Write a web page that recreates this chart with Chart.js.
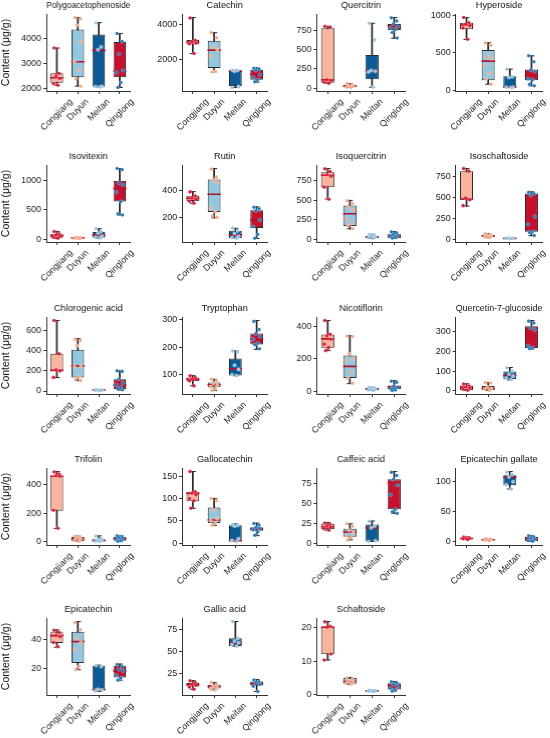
<!DOCTYPE html>
<html>
<head>
<meta charset="utf-8">
<script src="https://cdn.jsdelivr.net/npm/chart.js@4.4.1/dist/chart.umd.min.js"></script>
<style>
  html, body { margin: 0; padding: 0; background: #fff; }
  body { position: relative; width: 550px; height: 738px; overflow: hidden; }
  .panel { position: absolute; width: 137.5px; height: 150px; }
</style>
</head>
<body>
<script>
// ---- data ----
const regions = ['Congjiang', 'Duyun', 'Meitan', 'Qinglong'];

const compounds = [
  'Polygoacetophenoside', 'Catechin', 'Quercitrin', 'Hyperoside',
  'Isovitexin', 'Rutin', 'Isoquercitrin', 'Isoschaftoside',
  'Chlorogenic acid', 'Tryptophan', 'Nicotiflorin', 'Quercetin-7-glucoside',
  'Trifolin', 'Gallocatechin', 'Caffeic acid', 'Epicatechin gallate',
  'Epicatechin', 'Gallic acid', 'Schaftoside'
];

// whisker ends and box quartiles, one row per compound, one column per region
const lows = [
  [2135, 2095, 2060, 2040], [2330, 1255, 350, 667], [65, 10, 13, 646], [678, 80, 36, 58],
  [10, 10, 15, 410], [305, 197, 45, 43], [517, 134, 10, 10], [395, 20, 10, 43],
  [133, 103, 5, 10], [60, 43, 97, 193], [250, 47, 5, 5], [2, 2, 56, 213],
  [93, 5, 3, 5], [78, 40, 4, 17], [17, 5, 3, 38], [4, 2, 88, 0.5],
  [34.6, 18.8, 3.5, 11.5], [7.6, 6.9, 56, 5], [10.4, 3.1, 1.0, 1.1]
];
const q1s = [
  [2230, 2446, 2068, 2446], [2862, 1490, 432, 804], [73, 13, 116, 754], [812, 134, 36, 134],
  [23, 15, 23, 640], [322, 241, 46, 122], [668, 172, 13, 13], [470, 24, 10, 91],
  [200, 133, 7, 20], [78, 55, 98, 211], [267, 82, 6, 14], [5, 5, 60, 218],
  [216, 7, 5, 9], [94, 45, 6, 28], [18.5, 9, 3, 43], [4.5, 2.2, 94, 1],
  [37.6, 23.5, 4.7, 13.4], [10.7, 8.4, 56.5, 11.8], [12.1, 3.3, 1.1, 1.6]
];
const medians = [
  [2430, 3068, 3527, 2700], [3000, 2529, 1300, 1118], [108, 30, 224, 806], [870, 388, 45, 200],
  [57, 20, 63, 860], [342, 372, 68, 182], [823, 328, 26, 47], [480, 40, 12, 269],
  [205, 250, 10, 60], [84, 64, 122, 230], [322, 153, 14, 27], [19, 13, 78, 280],
  [455, 23, 9, 23], [111, 52, 6, 32], [21.4, 15, 20, 76], [5.6, 3.5, 108, 4.5],
  [42.8, 38.6, 4.7, 18], [12.6, 10.7, 59.4, 13.4], [20.2, 4, 1.2, 2.8]
];
const q3s = [
  [2608, 4365, 4162, 3865], [3117, 3078, 1353, 1392], [776, 43, 431, 832], [901, 535, 187, 277],
  [91, 25, 120, 994], [362, 483, 101, 253], [862, 435, 43, 65], [810, 51, 14, 545],
  [370, 410, 12, 117], [90, 72, 160, 251], [349, 220, 20, 35], [27, 25, 99, 329],
  [458, 35, 18, 35], [115, 80, 40, 36], [25, 19, 24, 80.5], [6.7, 4.5, 111, 8.4],
  [45.2, 45.6, 21.6, 21.6], [14.7, 12.6, 65, 16.4], [20.4, 5, 1.3, 3.5]
];
const highs = [
  [3620, 4838, 4635, 4203], [4430, 3548, 1360, 1490], [800, 60, 840, 914], [968, 633, 281, 459],
  [130, 30, 177, 1199], [392, 564, 119, 278], [909, 500, 65, 99], [841, 65, 15, 565],
  [700, 520, 14, 200], [97, 84, 187, 298], [435, 342, 25, 65], [36, 43, 119, 358],
  [488, 40, 42, 42], [160, 100, 43, 45], [26.5, 25, 28.5, 90], [8, 5.5, 117, 10],
  [46.8, 52.7, 22, 22.8], [17.2, 15.3, 84, 18.6], [21.9, 5.2, 1.4, 4]
];

// individual samples
const samples = [
  [[3620, 2600, 2500, 2400, 2200, 2130], [4840, 4780, 4530, 3870, 3080, 2740, 2390, 2095], [4620, 3660, 3550, 2080, 2070, 2060], [4200, 3880, 3380, 2720, 2650, 2240, 2040]],
  [[4400, 3100, 3000, 2950, 2900, 2330], [3550, 3250, 2700, 2550, 2180, 1300, 1255], [1360, 1340, 1300, 400, 350], [1470, 1420, 1350, 1100, 950, 800, 680]],
  [[800, 790, 110, 100, 80, 65], [60, 45, 30, 25, 15, 10], [840, 625, 230, 220, 210, 15], [910, 870, 830, 800, 780, 760, 720, 650]],
  [[970, 900, 880, 860, 830, 680], [630, 600, 450, 420, 330, 230, 150, 80], [280, 180, 170, 40, 38, 36], [460, 380, 270, 250, 150, 140, 80, 60]],
  [[130, 90, 70, 50, 30, 15], [30, 25, 20, 18, 15, 12], [175, 130, 100, 50, 30, 20], [1200, 1180, 950, 920, 800, 640, 430, 410]],
  [[390, 360, 345, 335, 320, 305], [560, 500, 480, 460, 270, 240, 210, 200], [120, 100, 80, 60, 50, 45], [275, 265, 250, 180, 130, 75, 45]],
  [[905, 870, 830, 810, 670, 515], [495, 460, 410, 380, 260, 200, 170, 135], [60, 55, 45, 30, 20, 10], [95, 80, 60, 50, 40, 25, 15]],
  [[840, 810, 490, 470, 400], [65, 55, 45, 40, 30, 25], [15, 13, 12, 12, 11, 10], [560, 545, 520, 270, 180, 90, 80, 45]],
  [[700, 370, 210, 200, 135], [515, 500, 450, 250, 240, 140, 120, 105], [14, 12, 10, 9, 7, 5], [200, 195, 120, 80, 60, 40, 20, 12]],
  [[97, 90, 85, 83, 78, 60], [84, 78, 70, 62, 57, 50, 43], [187, 183, 135, 120, 100, 97], [295, 265, 250, 240, 230, 215, 210, 195]],
  [[435, 350, 340, 320, 290, 270, 250], [340, 335, 230, 200, 190, 120, 80, 50], [25, 20, 15, 12, 8, 5], [62, 55, 30, 25, 15, 8, 5]],
  [[35, 25, 20, 15, 8, 3], [42, 40, 20, 12, 8, 3], [118, 100, 85, 75, 65, 58], [355, 345, 320, 310, 230, 220, 215]],
  [[485, 470, 460, 455, 220, 95], [40, 35, 30, 20, 12, 5], [40, 25, 15, 10, 5, 3], [42, 38, 30, 25, 15, 8, 5]],
  [[160, 115, 112, 108, 100, 95, 78], [100, 95, 75, 55, 50, 45, 40], [42, 40, 38, 10, 6, 4], [44, 40, 35, 33, 30, 25, 18]],
  [[26, 24, 22, 21, 19, 17], [25, 22, 17, 14, 10, 8, 5], [28, 22, 20, 4, 3], [89, 85, 80, 73, 61, 43, 40, 38]],
  [[8, 7, 6, 5.5, 5, 4], [5, 4.5, 4, 3.5, 3, 2], [116, 112, 108, 100, 95, 88], [10, 8, 6, 4, 2, 1]],
  [[46.5, 45, 43, 42, 38, 35], [52, 47, 41, 38, 33, 21, 19], [21.8, 21, 5, 4.5, 3.8], [22.5, 21, 19, 18, 15, 13, 11.5]],
  [[17, 15, 13, 12, 10, 7.5], [15, 13, 11, 10, 8, 7], [84, 65, 62, 60, 58, 56], [18, 16, 15, 13, 11, 5]],
  [[21.8, 20.5, 20.2, 12.2, 10.4], [5, 4.7, 4.2, 3.8, 3.5, 3.2], [1.4, 1.3, 1.2, 1.2, 1.1, 1.0], [3.9, 3.6, 3.1, 2.6, 2, 1.5, 1.1]]
];

const yTicks = [
  [2000, 3000, 4000], [2000, 4000], [0, 250, 500, 750], [0, 500, 1000],
  [0, 500, 1000], [200, 400], [0, 250, 500, 750], [0, 250, 500, 750],
  [0, 200, 400, 600], [100, 200, 300], [0, 200, 400], [0, 100, 200, 300],
  [0, 200, 400], [0, 50, 100, 150], [0, 25, 50, 75], [0, 50, 100],
  [20, 40], [25, 50, 75], [0, 10, 20]
];

// ---- styling / layout ----
const FONT = '"Liberation Sans", Arial, Helvetica, sans-serif';
const boxFill = ['#f9b49b', '#93c6df', '#0b5b96', '#c8102e'];
const dotFill = ['#e8112d', '#f4a582', '#8fc4e0', '#1a7cc1'];
const JITTER = [-0.13, 0.11, -0.04, 0.15, -0.16, 0.05, -0.09, 0.13];
const Y_WIDTH = [46, 44.2, 41.3, 42.7];
const PAD_RIGHT = [3.9, 5.8, 6.3, 8];
const PLOT_TOP = [14, 165, 317, 468, 618];

Chart.defaults.font.family = FONT;
Chart.defaults.color = '#222';

const axisGrid = { display: true, drawOnChartArea: false, offset: false, tickLength: 3, tickColor: '#333', tickWidth: 1 };
const axisBorder = { display: true, color: '#333', width: 1 };

// region names sit slanted at 45 degrees, centred under their tick
const slantLabels = {
    id: 'slantLabels',
    afterDraw(chart) {
        const sx = chart.scales.x, ctx = chart.ctx;
        ctx.save();
        ctx.font = '9px ' + FONT;
        ctx.fillStyle = '#222';
        ctx.textAlign = 'right';
        ctx.textBaseline = 'middle';
        sx.ticks.forEach(t => {
            const label = regions[t.value];
            const w = ctx.measureText(label).width;
            ctx.save();
            ctx.translate(sx.getPixelForValue(t.value) + w * 0.3536, sx.top + 9.5);
            ctx.rotate(-Math.PI / 4);
            ctx.fillText(label, 0, 0);
            ctx.restore();
        });
        ctx.restore();
    }
};

compounds.forEach((name, i) => {
    const col = i % 4, row = Math.floor(i / 4);
    const wrap = document.createElement('div');
    wrap.className = 'panel';
    wrap.style.left = (col * 137.5) + 'px';
    wrap.style.top = (PLOT_TOP[row] - 16) + 'px';
    const canvas = document.createElement('canvas');
    wrap.appendChild(canvas);
    document.body.appendChild(wrap);

    const all = [].concat(...samples[i], lows[i], highs[i]);
    const lo = Math.min(...all), hi = Math.max(...all);
    const pad = (hi - lo) * 0.05;

    const dots = [], dotColors = [];
    samples[i].forEach((vals, g) => vals.forEach((v, k) => {
        dots.push({ x: g + JITTER[k % JITTER.length], y: v });
        dotColors.push(dotFill[g]);
    }));
    const caps = [];
    regions.forEach((r, g) => { caps.push({ x: g, y: lows[i][g] }, { x: g, y: highs[i][g] }); });

    new Chart(canvas.getContext('2d'), {
        type: 'bar',
        data: {
            datasets: [
                {
                    type: 'scatter', order: 1, data: dots,
                    backgroundColor: dotColors, borderColor: 'rgba(255,255,255,0.6)', borderWidth: 0.4,
                    pointRadius: 1.8
                },
                {
                    type: 'scatter', order: 2,
                    data: regions.map((r, g) => ({ x: g, y: medians[i][g] })),
                    pointStyle: 'line', pointRadius: 6.6, borderColor: '#b3112c', borderWidth: 1.6
                },
                {
                    type: 'scatter', order: 3, data: caps,
                    pointStyle: 'line', pointRadius: 3, borderColor: '#2b2b2b', borderWidth: 1
                },
                {
                    type: 'bar', order: 4, grouped: false,
                    data: regions.map((r, g) => ({ x: g, y: [q1s[i][g], q3s[i][g]] })),
                    backgroundColor: boxFill, borderColor: '#2b2b2b', borderWidth: 1, borderSkipped: false,
                    categoryPercentage: 1, barPercentage: 0.6
                },
                {
                    type: 'bar', order: 5, grouped: false,
                    data: regions.map((r, g) => ({ x: g, y: [lows[i][g], highs[i][g]] })),
                    backgroundColor: '#2b2b2b', borderWidth: 0, barThickness: 1.1
                }
            ]
        },
        options: {
            responsive: true,
            maintainAspectRatio: false,
            animation: false,
            events: [],
            layout: { padding: { left: 0, right: PAD_RIGHT[col], top: 0, bottom: 0 } },
            plugins: {
                legend: { display: false },
                tooltip: { enabled: false },
                title: {
                    display: true, text: name, fullSize: false, color: '#111',
                    font: { size: 9.2, weight: 'normal' }, padding: { top: 2, bottom: 3 }
                }
            },
            scales: {
                x: {
                    type: 'linear', min: -0.5, max: 3.5, offset: false,
                    afterBuildTicks: s => { s.ticks = regions.map((r, g) => ({ value: g })); },
                    afterFit: s => { s.height = 57; },
                    ticks: { display: false },
                    grid: axisGrid, border: axisBorder
                },
                y: {
                    type: 'linear', min: lo - pad, max: hi + pad,
                    afterBuildTicks: s => { s.ticks = yTicks[i].map(v => ({ value: v })); },
                    afterFit: s => { s.width = Y_WIDTH[col]; },
                    ticks: { padding: 2, color: '#222', font: { size: 9 }, callback: v => String(v) },
                    grid: axisGrid, border: axisBorder,
                    title: {
                        display: col === 0, text: 'Content (μg/g)', color: '#111',
                        font: { size: 10.5 }, padding: { top: 0, bottom: 2 }
                    }
                }
            }
        },
        plugins: [slantLabels]
    });
});
</script>
</body>
</html>
